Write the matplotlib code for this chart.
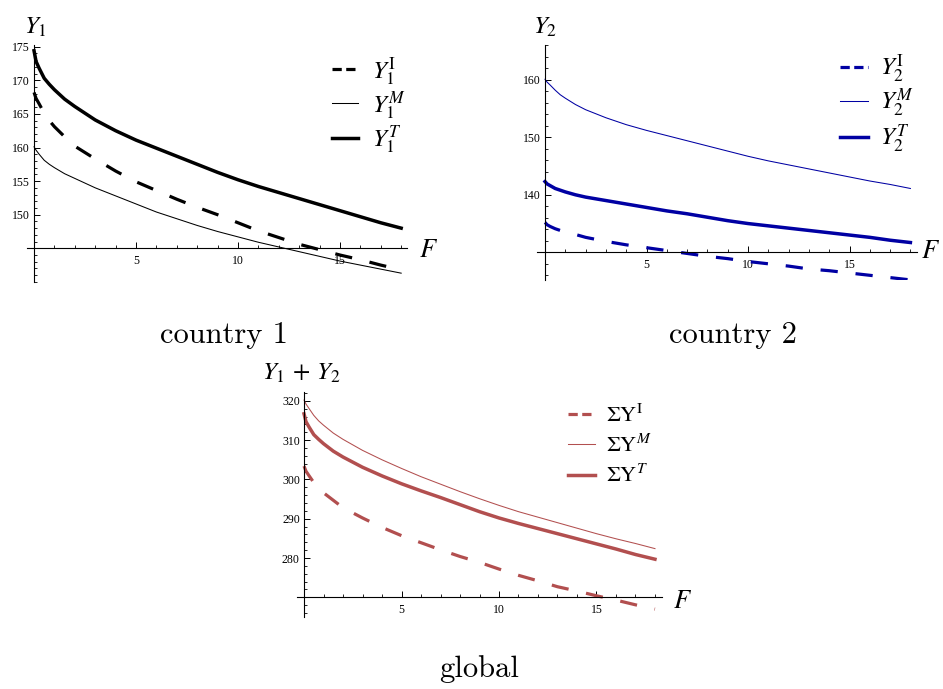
import matplotlib.pyplot as plt
from matplotlib.lines import Line2D
from matplotlib.ticker import MultipleLocator
import numpy as np

plt.rcParams['mathtext.fontset'] = 'stix'
plt.rcParams['font.family'] = ['Liberation Serif', 'DejaVu Serif']

W, H = 943, 689

F = [0, 0.1, 0.25, 0.5, 0.75, 1, 1.5, 2, 3, 4, 5, 6, 7, 8, 9,
     10, 11, 12, 13, 14, 15, 16, 17, 18]

# country 1
y1_I = [168.2, 167.3, 166.5, 165.1, 164.0, 163.1, 161.6, 160.2, 158.3, 156.5, 154.9, 153.6,
        152.3, 151.1, 150.0, 148.8, 147.6, 146.6, 145.6, 144.8, 144.0, 143.3, 142.5, 141.8]
y1_M = [160.1, 159.6, 159.0, 158.1, 157.5, 157.0, 156.1, 155.4, 154.0, 152.8, 151.6, 150.4,
        149.4, 148.4, 147.5, 146.7, 145.9, 145.2, 144.5, 143.8, 143.1, 142.5, 141.9, 141.3]
y1_T = [174.4, 172.8, 171.8, 170.3, 169.4, 168.6, 167.2, 166.1, 164.1, 162.5, 161.1, 159.9,
        158.7, 157.5, 156.3, 155.2, 154.2, 153.3, 152.4, 151.5, 150.6, 149.7, 148.8, 148.0]

# country 2
y2_I = [135.2, 134.8, 134.5, 134.1, 133.8, 133.5, 133.1, 132.6, 131.9, 131.3, 130.8, 130.3,
        129.8, 129.3, 128.9, 128.4, 128.0, 127.6, 127.1, 126.8, 126.4, 126.0, 125.6, 125.2]
y2_M = [160.1, 159.6, 159.1, 158.2, 157.4, 156.8, 155.7, 154.8, 153.4, 152.2, 151.2, 150.3,
        149.4, 148.5, 147.6, 146.7, 145.9, 145.2, 144.5, 143.8, 143.1, 142.4, 141.8, 141.1]
y2_T = [142.3, 141.9, 141.6, 141.1, 140.8, 140.5, 140.0, 139.6, 139.0, 138.4, 137.8, 137.2,
        136.7, 136.1, 135.5, 135.0, 134.6, 134.2, 133.8, 133.4, 133.0, 132.6, 132.1, 131.7]

# global = sum of both countries
sum_I = np.add(y1_I, y2_I)
sum_M = np.add(y1_M, y2_M)
sum_T = np.add(y1_T, y2_T)

BLACK = 'black'
BLUE = '#0000a3'
RED = '#b24f4f'

DASH = (5.4, 5.6)
LW_DASH, LW_THIN, LW_THICK = 2.3, 0.75, 2.5

fig = plt.figure(figsize=(W / 100, H / 100), dpi=100)


def px_axes(left, top, right, bottom):
    return fig.add_axes([left / W, 1 - bottom / H, (right - left) / W, (bottom - top) / H])


def style_axes(ax, xlim, ylim, ycross, yticks, yminor):
    ax.set_xlim(*xlim)
    ax.set_ylim(*ylim)
    for s in ('top', 'right'):
        ax.spines[s].set_visible(False)
    ax.spines['left'].set_position(('data', 0))
    ax.spines['bottom'].set_position(('data', ycross))
    for s in ('left', 'bottom'):
        ax.spines[s].set_linewidth(0.8)
    ax.set_xticks([5, 10, 15])
    ax.xaxis.set_minor_locator(MultipleLocator(1))
    ax.set_yticks(yticks)
    ax.yaxis.set_minor_locator(MultipleLocator(yminor))
    ax.tick_params(which='major', direction='in', length=4, width=0.7, labelsize=8.5, pad=3)
    ax.tick_params(axis='x', which='major', pad=4.5)
    ax.tick_params(which='minor', direction='in', length=2.2, width=0.6)
    ax.patch.set_alpha(0)


def add_legend(ax, color, labels, anchor, fs, hlen, pad, spacing):
    handles = [Line2D([], [], color=color, lw=LW_DASH, dashes=(2.9, 1.4)),
               Line2D([], [], color=color, lw=LW_THIN),
               Line2D([], [], color=color, lw=LW_THICK)]
    ax.legend(handles, labels, loc='upper left',
              bbox_to_anchor=(anchor[0] / W, 1 - anchor[1] / H),
              bbox_transform=fig.transFigure, frameon=False, fontsize=fs,
              handlelength=hlen, handletextpad=pad, labelspacing=spacing,
              borderpad=0, borderaxespad=0)


# --- country 1 ---
ax1 = px_axes(27.3, 44.7, 407.3, 281.9)
ax1.plot(F, y1_I, color=BLACK, lw=LW_DASH, dashes=DASH)
ax1.plot(F, y1_M, color=BLACK, lw=LW_THIN)
ax1.plot(F, y1_T, color=BLACK, lw=LW_THICK)
style_axes(ax1, (-0.33, 18.3), (140, 175.3), 145, [150, 155, 160, 165, 170, 175], 1)
add_legend(ax1, BLACK, [r'$Y_1^{\mathrm{I}}$', r'$Y_1^{M}$', r'$Y_1^{T}$'],
           (332, 55), 18, 1.05, 0.55, 0.09)
fig.text(24 / W, 1 - 34 / H, r'$Y_1$', fontsize=18, ha='left', va='baseline')
fig.text(419 / W, 1 - 257 / H, r'$F$', fontsize=19, ha='left', va='baseline')

# --- country 2 ---
ax2 = px_axes(536.9, 45.3, 916.5, 279.9)
ax2.plot(F, y2_I, color=BLUE, lw=LW_DASH, dashes=DASH)
ax2.plot(F, y2_M, color=BLUE, lw=LW_THIN)
ax2.plot(F, y2_T, color=BLUE, lw=LW_THICK)
style_axes(ax2, (-0.4, 18.3), (125.2, 166.0), 130, [140, 150, 160], 2)
add_legend(ax2, BLUE, [r'$Y_2^{\mathrm{I}}$', r'$Y_2^{M}$', r'$Y_2^{T}$'],
           (840, 52.5), 18, 1.1, 0.5, 0.13)
fig.text(533 / W, 1 - 34 / H, r'$Y_2$', fontsize=18, ha='left', va='baseline')
fig.text(921 / W, 1 - 258 / H, r'$F$', fontsize=19, ha='left', va='baseline')

# --- global ---
ax3 = px_axes(297.4, 391.8, 661.6, 616.6)
ax3.plot(F, sum_I, color=RED, lw=LW_DASH, dashes=DASH)
ax3.plot(F, sum_M, color=RED, lw=LW_THIN)
ax3.plot(F, sum_T, color=RED, lw=LW_THICK)
style_axes(ax3, (-0.34, 18.34), (265.1, 322.3), 270, [280, 290, 300, 310, 320], 2)
add_legend(ax3, RED, [r'$\Sigma\mathrm{Y}^{\mathrm{I}}$', r'$\Sigma\mathrm{Y}^{M}$',
                      r'$\Sigma\mathrm{Y}^{T}$'],
           (568, 405), 16, 1.2, 0.5, 0.34)
fig.text(262 / W, 1 - 380 / H, r'$Y_1\,+\,Y_2$', fontsize=18, ha='left', va='baseline')
fig.text(673 / W, 1 - 608 / H, r'$F$', fontsize=19, ha='left', va='baseline')

# captions
for x, y, s in [(224, 343, 'country 1'), (733, 343, 'country 2'), (479, 677, 'global')]:
    fig.text(x / W, 1 - y / H, s, fontsize=22, family='cmr10', ha='center', va='baseline')

fig.savefig('out.png', dpi=100)
